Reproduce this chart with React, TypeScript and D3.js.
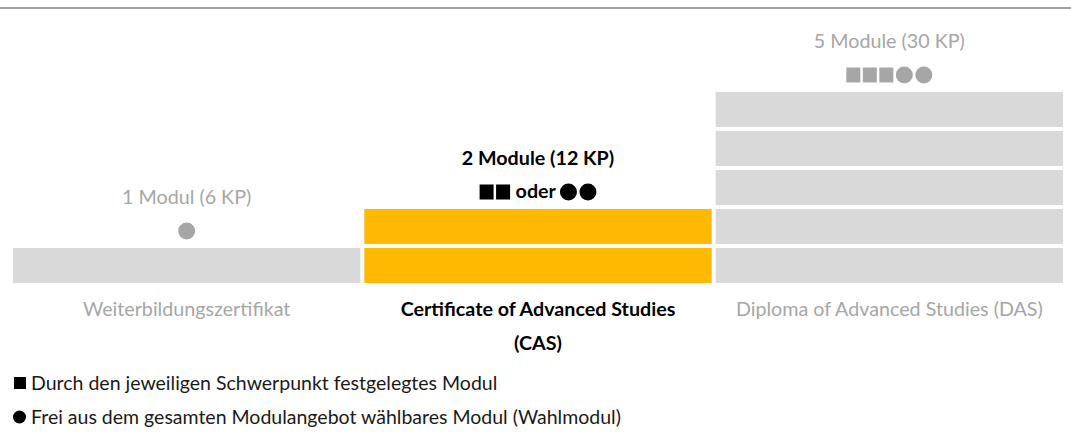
import * as d3 from "d3";
import React, { useRef, useEffect } from "react";

// Studiengänge (Spalten)
const programs = ["WBZ", "CAS", "DAS"];
const programLabels = [
  ["Weiterbildungszertifikat"],
  ["Certificate of Advanced Studies", "(CAS)"],
  ["Diploma of Advanced Studies (DAS)"],
];
const moduleCounts = [1, 2, 5];
const moduleLabels = ["1 Modul (6 KP)", "2 Module (12 KP)", "5 Module (30 KP)"];
// Symbole über den Balken: s = Pflichtmodul, c = Wahlmodul
const symbolRows = [["c"], ["s", "s", "oder", "c", "c"], ["s", "s", "s", "c", "c"]];
const highlighted = [false, true, false];

const legendShapes = ["s", "c"];
const legendTexts = [
  "Durch den jeweiligen Schwerpunkt festgelegtes Modul",
  "Frei aus dem gesamten Modulangebot wählbares Modul (Wahlmodul)",
];

const W = 1071;
const H = 434;
const FONT = "Lato, 'Open Sans', sans-serif";
const FS = "19.7px";

const colors = {
  bar: "#d9d9d9",
  barActive: "#ffb900",
  textMuted: "#a6a6a6",
  text: "#000000",
  rule: "#7f7f7f",
};

export default function App() {
  const svgRef = useRef<SVGSVGElement | null>(null);

  useEffect(() => {
    if (!svgRef.current) return;
    const svg = d3.select(svgRef.current);
    svg.selectAll("*").remove();

    // Linie oben
    svg
      .append("line")
      .attr("x1", 0)
      .attr("x2", W)
      .attr("y1", 8)
      .attr("y2", 8)
      .attr("stroke", colors.rule)
      .attr("stroke-width", 1.5);

    const x = d3.scaleBand().domain(programs).range([13, 1063]).paddingInner(0.0114);
    const y = d3.scaleLinear().domain([0, 5]).range([283, 88]);
    const gap = 4;

    programs.forEach((p, i) => {
      const g = svg.append("g");
      const x0 = x(p)!;
      const cx = x0 + x.bandwidth() / 2;
      const active = highlighted[i];
      const fill = active ? colors.text : colors.textMuted;

      // Modul-Blöcke
      g.selectAll("rect.bar")
        .data(d3.range(moduleCounts[i]))
        .enter()
        .append("rect")
        .attr("class", "bar")
        .attr("x", x0)
        .attr("width", x.bandwidth())
        .attr("y", (d) => y(d + 1) + gap)
        .attr("height", (d) => y(d) - y(d + 1) - gap)
        .attr("fill", active ? colors.barActive : colors.bar);

      const top = y(moduleCounts[i]) + gap;

      g.append("text")
        .attr("x", cx)
        .attr("y", top - 44)
        .attr("text-anchor", "middle")
        .style("font-family", FONT)
        .style("font-size", FS)
        .style("font-weight", active ? "bold" : "normal")
        .attr("fill", fill)
        .text(moduleLabels[i]);

      // Symbolzeile
      const sq = 14;
      const ci = 17;
      const sp = 2.5;
      const symY = top - 17;
      const row = g.append("g");
      let cur = 0;
      symbolRows[i].forEach((s) => {
        if (s === "s") {
          row.append("rect").attr("x", cur).attr("y", symY - 7.5).attr("width", sq).attr("height", 15).attr("fill", fill);
          cur += sq + sp;
        } else if (s === "c") {
          row.append("circle").attr("cx", cur + ci / 2).attr("cy", symY).attr("r", ci / 2).attr("fill", fill);
          cur += ci + sp;
        } else {
          const t = row
            .append("text")
            .attr("x", cur + 3)
            .attr("y", symY + 6)
            .style("font-family", FONT)
            .style("font-size", FS)
            .style("font-weight", active ? "bold" : "normal")
            .attr("fill", fill)
            .text(s);
          const w = (t.node() as SVGTextElement).getComputedTextLength();
          cur += w + 7;
        }
      });
      row.attr("transform", `translate(${cx - (cur - sp) / 2},0)`);

      // Beschriftung unten
      programLabels[i].forEach((line, k) => {
        g.append("text")
          .attr("x", cx)
          .attr("y", 316 + k * 34)
          .attr("text-anchor", "middle")
          .style("font-family", FONT)
          .style("font-size", FS)
          .style("font-weight", active ? "bold" : "normal")
          .attr("fill", fill)
          .text(line);
      });
    });

    // Legende
    const legend = svg.append("g").attr("transform", "translate(13,0)");
    legendTexts.forEach((t, i) => {
      const ly = 383 + i * 34;
      if (legendShapes[i] === "s") {
        legend.append("rect").attr("x", 1).attr("y", ly - 6).attr("width", 12).attr("height", 12).attr("fill", colors.text);
      } else {
        legend.append("circle").attr("cx", 6.5).attr("cy", ly).attr("r", 6.5).attr("fill", colors.text);
      }
      legend
        .append("text")
        .attr("x", 18)
        .attr("y", ly + 7)
        .style("font-family", FONT)
        .style("font-size", "19.5px")
        .attr("fill", "#1a1a1a")
        .text(t);
    });
  }, []);

  return (
    <svg
      ref={svgRef}
      width={W}
      height={H}
      style={{ position: "absolute", left: 0, top: 0, background: "#fff" }}
    ></svg>
  );
}
